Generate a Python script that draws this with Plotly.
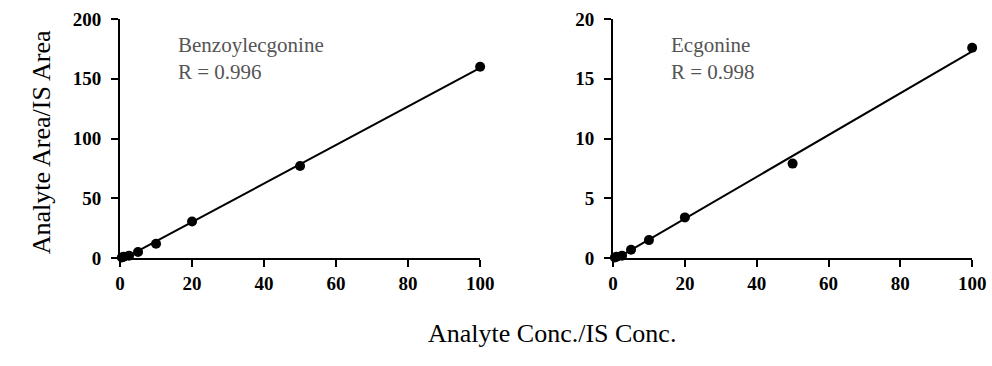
import numpy as np
import plotly.graph_objects as go

conc = [0.5, 1, 2.5, 5, 10, 20, 50, 100]
be_ratio = [0.5, 1.0, 2.0, 5.0, 12.0, 30.5, 77.0, 160.0]
ec_ratio = [0.05, 0.1, 0.2, 0.7, 1.5, 3.4, 7.9, 17.6]
x_ticks = [0, 20, 40, 60, 80, 100]
be_yticks = [0, 50, 100, 150, 200]
ec_yticks = [0, 5, 10, 15, 20]
labels = ["Benzoylecgonine<br>R = 0.996", "Ecgonine<br>R = 0.998"]

fig = go.Figure()
font_tick = dict(family="Liberation Serif", size=19, color="black", weight="bold")

for i, (yv, xa, ya) in enumerate([(be_ratio, "x", "y"), (ec_ratio, "x2", "y2")]):
    m, b = np.polyfit(conc, yv, 1)
    xl = [0, 100]
    fig.add_trace(go.Scatter(x=xl, y=[m * v + b for v in xl], mode="lines",
                             line=dict(color="black", width=2), xaxis=xa, yaxis=ya,
                             showlegend=False, cliponaxis=False))
    fig.add_trace(go.Scatter(x=conc, y=yv, mode="markers",
                             marker=dict(color="black", size=10), xaxis=xa, yaxis=ya,
                             showlegend=False, cliponaxis=False))

axis_common = dict(showline=True, linecolor="black", linewidth=2, ticks="outside",
                   ticklen=7, tickwidth=2, tickcolor="black", showgrid=False,
                   zeroline=False, tickfont=font_tick, automargin=False)

fig.update_layout(
    width=992, height=366, margin=dict(l=0, r=0, t=0, b=0, autoexpand=False),
    plot_bgcolor="white", paper_bgcolor="white",
    xaxis=dict(domain=[0.121, 0.484], range=[0, 100], tickvals=x_ticks, anchor="y", **axis_common),
    yaxis=dict(domain=[0.295, 0.948], range=[0, 200], tickvals=be_yticks, anchor="x",
               ticklabelstandoff=6, **axis_common),
    xaxis2=dict(domain=[0.618, 0.980], range=[0, 100], tickvals=x_ticks, anchor="y2", **axis_common),
    yaxis2=dict(domain=[0.295, 0.948], range=[0, 20], tickvals=ec_yticks, anchor="x2",
                ticklabelstandoff=6, **axis_common),
)

fig.add_annotation(text=labels[0], xref="x", yref="y", x=15.5, y=190, xanchor="left", yanchor="top",
                   showarrow=False, align="left",
                   font=dict(family="Liberation Serif", size=21, color="#555555"))
fig.add_annotation(text=labels[1], xref="x2", yref="y2", x=15.5, y=19.0, xanchor="left", yanchor="top",
                   showarrow=False, align="left",
                   font=dict(family="Liberation Serif", size=21, color="#555555"))
fig.add_annotation(text="Analyte Area/IS Area", xref="paper", yref="paper", x=0.025, y=1 - 142 / 366,
                   textangle=-90, showarrow=False,
                   font=dict(family="Liberation Serif", size=26, color="black"))
fig.add_annotation(text="Analyte Conc./IS Conc.", xref="paper", yref="paper", x=552 / 992, y=1 - 350 / 366,
                   showarrow=False,
                   font=dict(family="Liberation Serif", size=26, color="black"))

fig.write_html("out.html")
